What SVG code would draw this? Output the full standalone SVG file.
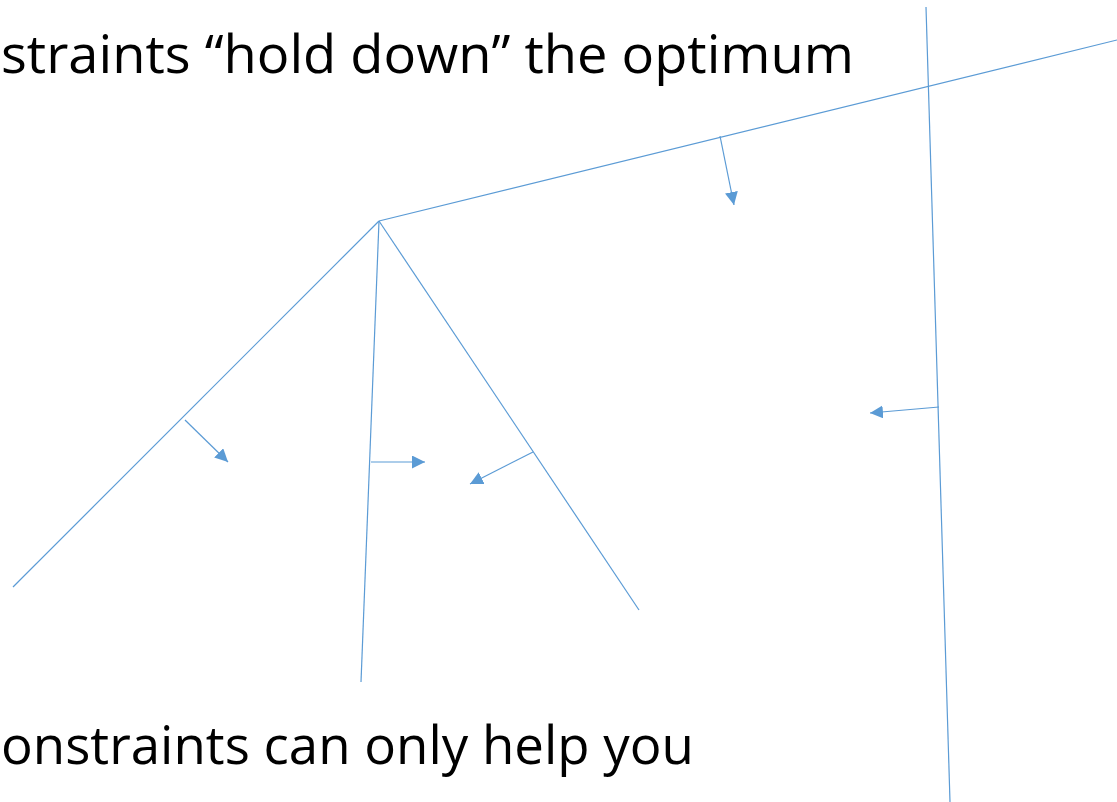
<svg xmlns="http://www.w3.org/2000/svg" width="1117" height="802" viewBox="0 0 1117 802">
<style>
.ln{stroke:#5B9BD5;stroke-width:1.2;fill:none}
.ar{stroke:#5B9BD5;stroke-width:1.5;fill:none;marker-end:url(#ah)}
.t{font-family:"Open Sans","Noto Sans",sans-serif;font-size:53px;fill:#000}
</style>
<defs>
<marker id="ah" viewBox="0 0 10 10" refX="10" refY="5" markerWidth="13" markerHeight="13" markerUnits="userSpaceOnUse" orient="auto">
<path d="M0,0 L10,5 L0,10 z" fill="#5B9BD5"/>
</marker>
</defs>
<rect width="1117" height="802" fill="#fff"/>
<g id="title"><text class="t" x="1" y="73" textLength="853" lengthAdjust="spacingAndGlyphs">straints “hold down” the optimum</text></g>
<g id="caption"><text class="t" x="1" y="764" textLength="693" lengthAdjust="spacingAndGlyphs">onstraints can only help you</text></g>
<g id="constraints">
<line class="ln" x1="379" y1="221" x2="1117" y2="40"/>
<line class="ln" x1="379" y1="221" x2="13" y2="587"/>
<line class="ln" x1="379" y1="221" x2="361" y2="682"/>
<line class="ln" x1="379" y1="221" x2="639" y2="610"/>
<line class="ln" x1="926" y1="7" x2="950" y2="802"/>
</g>
<g id="connectors">
<line class="ln" style="marker-end:url(#ah)" x1="720" y1="136" x2="734" y2="205"/>
<line class="ln" style="marker-end:url(#ah)" x1="185" y1="420" x2="228" y2="462"/>
<line class="ln" style="marker-end:url(#ah)" x1="371" y1="462" x2="425" y2="462"/>
<line class="ln" style="marker-end:url(#ah)" x1="533" y1="452" x2="470" y2="484"/>
<line class="ln" style="marker-end:url(#ah)" x1="939" y1="407" x2="870" y2="413"/>
</g>
</svg>
